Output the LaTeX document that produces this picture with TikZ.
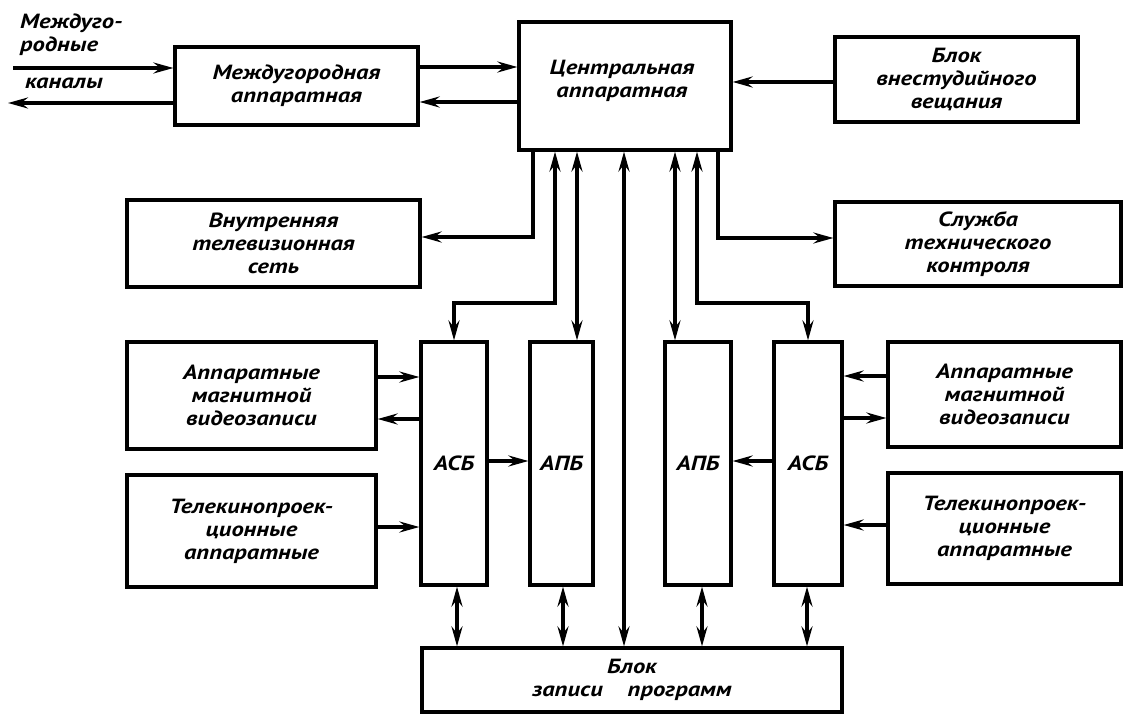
\documentclass[tikz,border=0pt]{standalone}
\usepackage{fontspec}
\setmainfont{PT Sans}[FakeStretch=1.2]
\usetikzlibrary{arrows.meta}
\newcommand\gostfont{\fontsize{20.5}{23}\selectfont\bfseries\itshape}
\tikzset{
  box/.style={draw, line width=3.2pt, inner sep=0pt, align=center, font=\gostfont},
  lbl/.style={inner sep=0pt, align=center, font=\gostfont},
  conn/.style={line width=3.4pt},
  arr/.style={conn, -{Stealth[length=20pt,width=11pt,inset=7pt]}},
  biarr/.style={conn, {Stealth[length=20pt,width=11pt,inset=7pt]}-{Stealth[length=20pt,width=11pt,inset=7pt]}},
}
\begin{document}
\begin{tikzpicture}[x=1pt,y=-1pt]
\useasboundingbox (0,0) rectangle (1123,714);
% boxes
\node[box, minimum width=243, minimum height=78] (ma) at (296.5,86) {Междугородная\\аппаратная};
\node[box, minimum width=212, minimum height=128] (central) at (625,86) {};
\node[lbl] (ctext) at (622,81) {Центральная\\аппаратная};
\node[box, minimum width=243, minimum height=85] (vne) at (956.5,79.5) {Блок\\внестудийного\\вещания};
\node[box, minimum width=293, minimum height=87] (vnut) at (273.5,243.5) {Внутренняя\\телевизионная\\сеть};
\node[box, minimum width=286, minimum height=84] (sluzh) at (978,244) {Служба\\технического\\контроля};
\node[box, minimum width=249, minimum height=107] (magL) at (251.5,395.5) {Аппаратные\\магнитной\\видеозаписи};
\node[box, minimum width=249, minimum height=112] (teleL) at (251.5,531) {Телекинопроек-\\ционные\\аппаратные};
\node[box, minimum width=66, minimum height=243] (asbL) at (454,463.5) {АСБ};
\node[box, minimum width=63, minimum height=243] (apbL) at (561.5,463.5) {АПБ};
\node[box, minimum width=66, minimum height=243] (apbR) at (698,463.5) {АПБ};
\node[box, minimum width=68, minimum height=243] (asbR) at (808,463.5) {АСБ};
\node[box, minimum width=233, minimum height=105] (magR) at (1004.5,394.5) {Аппаратные\\магнитной\\видеозаписи};
\node[box, minimum width=233, minimum height=111] (teleR) at (1004.5,528.5) {Телекинопроек-\\ционные\\аппаратные};
\node[box, minimum width=420, minimum height=64] (bot) at (632,680) {Блок\\записи\ \ \ \ программ};
% left labels
\node[lbl, align=left, anchor=north west] (mgtext) at (20,14) {Междуго-\\родные};
\node[lbl, anchor=north west] (kan) at (25,78) {каналы};
\coordinate (inL) at (13,68);
\coordinate (outL) at (8,103);
% connectors top
\draw[arr] (inL) -- (ma.west |- inL);
\draw[arr] (ma.west |- outL) -- (outL);
\draw[arr] (ma.east |- 0,67) -- (central.west |- 0,67);
\draw[arr] (central.west |- 0,102) -- (ma.east |- 0,102);
\draw[arr] (vne.west |- 0,82) -- (central.east |- 0,82);
% from central downwards
\draw[arr] (central.south -| 533,0) |- (vnut.east |- 0,237);
\draw[arr] (central.south -| 718,0) |- (sluzh.west |- 0,238);
\draw[biarr] (central.south -| 555,0) |- (asbL.north |- 0,303) -- (asbL.north);
\draw[biarr] (central.south -| 697,0) |- (asbR.north |- 0,303) -- (asbR.north);
\draw[biarr] (central.south -| 577,0) -- (apbL.north -| 577,0);
\draw[biarr] (central.south -| 675,0) -- (apbR.north -| 675,0);
\draw[biarr] (central.south -| 624,0) -- (bot.north -| 624,0);
% left side
\draw[arr] (magL.east |- 0,377) -- (asbL.west |- 0,377);
\draw[arr] (asbL.west |- 0,419) -- (magL.east |- 0,419);
\draw[arr] (teleL.east |- 0,527) -- (asbL.west |- 0,527);
\draw[arr] (asbL.east |- 0,461) -- (apbL.west |- 0,461);
% right side
\draw[arr] (magR.west |- 0,376) -- (asbR.east |- 0,376);
\draw[arr] (asbR.east |- 0,418) -- (magR.west |- 0,418);
\draw[arr] (teleR.west |- 0,525) -- (asbR.east |- 0,525);
\draw[arr] (asbR.west |- 0,461) -- (apbR.east |- 0,461);
% bottom
\draw[biarr] (asbL.south -| 457,0) -- (bot.north -| 457,0);
\draw[biarr] (apbL.south -| 563,0) -- (bot.north -| 563,0);
\draw[biarr] (apbR.south -| 702,0) -- (bot.north -| 702,0);
\draw[biarr] (asbR.south -| 807,0) -- (bot.north -| 807,0);
\end{tikzpicture}
\end{document}
